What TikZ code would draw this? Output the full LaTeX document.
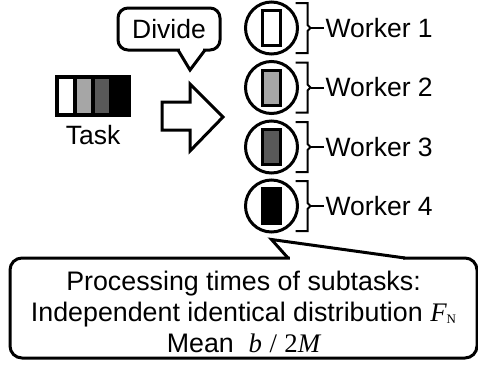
\documentclass[tikz,border=0pt]{standalone}
\usepackage{fontspec}
\setmainfont{Liberation Serif}
\setsansfont{Liberation Sans}
\usetikzlibrary{positioning}
\definecolor{barlight}{HTML}{A6A6A6}
\definecolor{bardark}{HTML}{595959}

\tikzset{
    every node/.style={font=\sffamily\fontsize{26.5}{31}\selectfont},
    outline/.style={draw=black, line width=3pt, line join=miter},
    bubble/.style={outline, fill=white, rounded corners=10pt, inner sep=0pt},
    segbox/.style={draw=black, line width=3.5pt, minimum width=18pt, minimum height=38pt, inner sep=0pt, outer sep=0pt},
    workerring/.style={outline, circle, minimum size=52pt, inner sep=0pt},
    jobbar/.style={draw=black, line width=3pt, minimum width=18pt, minimum height=35pt, inner sep=0pt},
    bracket/.style={draw=black, line width=2pt},
    workerlabel/.style={anchor=west, inner sep=1.5pt}
}

\begin{document}
\begin{tikzpicture}[x=1pt, y=-1pt]
        \useasboundingbox (0,0) rectangle (478,367);

        % the task, cut in four parts
        \node[segbox, fill=white] (seg1) at (66,96) {};
        \node[segbox, fill=barlight, right=0pt of seg1] (seg2) {};
        \node[segbox, fill=bardark, right=0pt of seg2] (seg3) {};
        \node[segbox, fill=black, right=0pt of seg3] (seg4) {};
        \draw[line width=3.5pt] (seg1.north west) rectangle (seg4.south east);
        \node (task) at (93,135) {Task};

        % hollow arrow
        \draw[outline] (162,102) -- (190,102) -- (190,84) -- (223,117)
            -- (190,151) -- (190,130) -- (162,130) -- cycle;

        % Divide bubble
        \node[bubble, minimum width=102pt, minimum height=42pt] (divide) at (169,29) {Divide};
        \draw[white, line width=3.4pt] (180,50) -- (203,50);
        \draw[outline] (178,50) -- (190,70) -- (205,50);

        % workers
        \foreach \i/\f/\y in {1/white/28, 2/barlight/87.5, 3/bardark/147, 4/black/206} {
            \node[workerring] (ring\i) at (271.5,\y) {};
            \node[jobbar, fill=\f] (bar\i) at (271,\y) {};
            \node[workerlabel] (label\i) at (324,\y) {Worker \i};
            \draw[bracket] ([shift={(24,-25)}]ring\i.center) -- ++(12,0) -- ++(0,22)
                -- ++(3,3) coordinate (tip\i) -- ++(-3,3) -- ++(0,22) -- ++(-12,0);
            \draw[bracket] (tip\i) -- (label\i.west);
        }

        % bottom bubble
        \node[bubble, rounded corners=12pt, minimum width=467pt, minimum height=100pt]
            (info) at (243.5,308) {};
        \node[align=center, font=\sffamily\fontsize{26.8}{31}\selectfont] (infotext) at (243.5,312)
            {Processing times of subtasks:\\
             Independent identical distribution {\rmfamily\itshape F}\raisebox{-2pt}{\rmfamily\fontsize{13}{13}\selectfont N}\\
             Mean\ \ {\rmfamily\itshape b} {\rmfamily /} {\rmfamily 2\itshape M}};
        \draw[white, line width=3.4pt] (290,258) -- (403,258);
        \draw[outline] (288,258) -- ([yshift=-6pt]ring4.south) -- (405,258);
    \end{tikzpicture}
\end{document}
